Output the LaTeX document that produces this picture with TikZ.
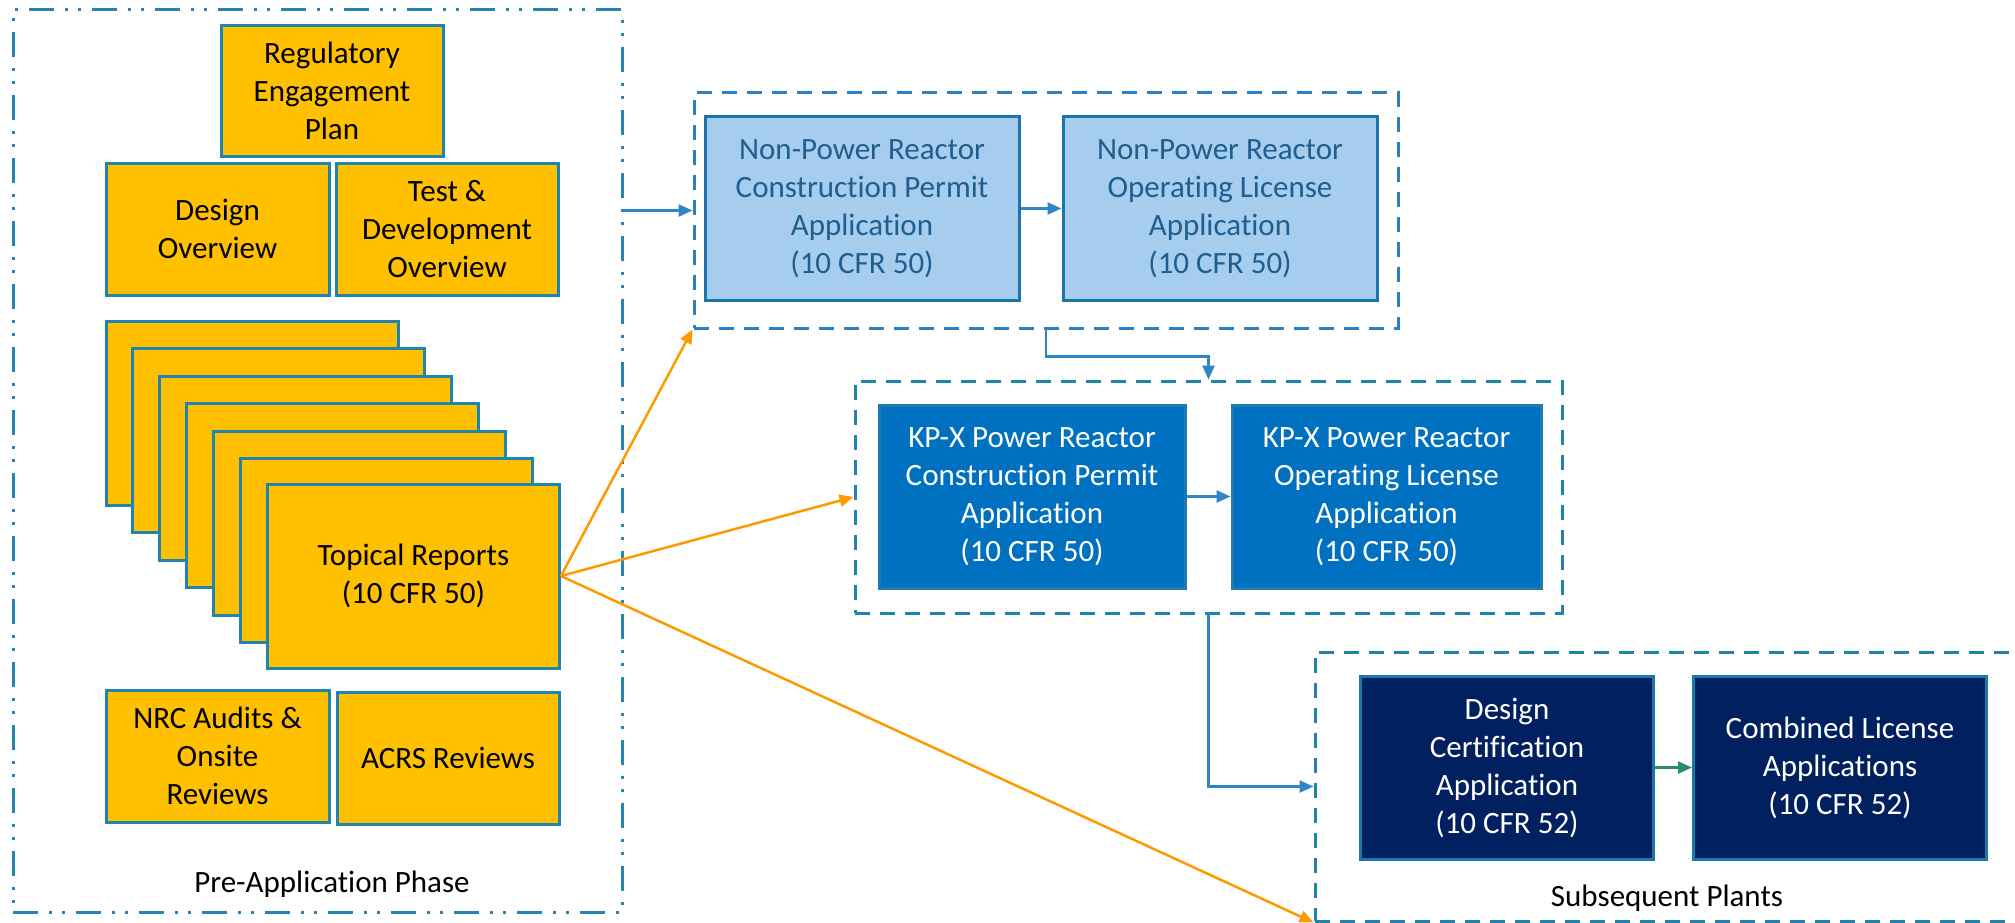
\documentclass[tikz,border=0pt]{standalone}
\usepackage{fontspec}
\setmainfont{Carlito}[Ligatures={NoCommon}]
\usetikzlibrary{arrows.meta}
\definecolor{yfill}{HTML}{FFC000}
\definecolor{yedge}{RGB}{31,132,174}
\definecolor{lbfill}{HTML}{A6CDED}
\definecolor{lbedge}{RGB}{27,117,168}
\definecolor{lbtext}{RGB}{30,94,145}
\definecolor{kpfill}{HTML}{0070C0}
\definecolor{kpedge}{RGB}{31,122,176}
\definecolor{nvfill}{HTML}{002060}
\definecolor{nvedge}{RGB}{26,122,165}
\definecolor{grpA}{RGB}{42,127,198}
\definecolor{grpB}{RGB}{30,132,172}
\definecolor{outerc}{RGB}{37,132,176}
\definecolor{arrblue}{RGB}{46,134,200}
\definecolor{arrorange}{HTML}{FF9900}
\definecolor{arrgreen}{RGB}{46,139,110}
\begin{document}
\begin{tikzpicture}[x=1pt,y=-1pt,
  txt/.style={font=\fontsize{31}{38}\selectfont, align=center},
  box/.style={txt, rectangle, line width=3pt, inner sep=0pt},
  ybox/.style={box, draw=yedge, fill=yfill, text=black},
  lbbox/.style={box, draw=lbedge, fill=lbfill, text=lbtext},
  kpbox/.style={box, draw=kpedge, fill=kpfill, text=white},
  nvbox/.style={box, draw=nvedge, fill=nvfill, text=white},
  grp/.style={rectangle, line width=3pt, inner sep=0pt, dash pattern=on 15pt off 10pt},
  outerbox/.style={rectangle, draw=outerc, line width=3pt, inner sep=0pt, dash pattern=on 25pt off 11pt on 3pt off 10pt on 3pt off 11pt},
  tip/.style={-{Triangle[length=14pt,width=12pt]}},
  barrow/.style={tip, draw=arrblue, line width=2.5pt},
  oarrow/.style={tip, draw=arrorange, line width=2.5pt},
  garrow/.style={tip, draw=arrgreen, line width=2.5pt},
  lbl/.style={txt, text=black, inner sep=0pt}
]
\useasboundingbox (0,0) rectangle (2015,923);

% Pre-application phase
\node[outerbox, minimum width=609pt, minimum height=902pt] (outer) at (317.5,461) {};
\node[lbl] (prelbl) at (332,884) {Pre-Application Phase};
\node[ybox, minimum width=222pt, minimum height=130pt] (reg) at (332,91) {Regulatory\\Engagement\\Plan};
\node[ybox, minimum width=223pt, minimum height=132pt] (des) at (217.5,229) {Design\\Overview};
\node[ybox, minimum width=222pt, minimum height=132pt] (test) at (447,229) {Test \&\\Development\\Overview};
\foreach \k in {0,...,5} {
  \node[ybox, minimum width=292pt, minimum height=184pt] (top\k) at ({252+26.9*\k},{413+27.5*\k}) {};
}
\node[ybox, minimum width=292pt, minimum height=184pt] (top6) at ({252+26.9*6},{411+27.5*6}) {Topical Reports\\(10 CFR 50)};
\node[ybox, minimum width=223pt, minimum height=132pt] (nrc) at (217.5,756) {NRC Audits \&\\Onsite\\Reviews};
\node[ybox, minimum width=222pt, minimum height=132pt] (acrs) at (448,758) {ACRS Reviews};

% Non-power reactor group
\node[grp, draw=grpA, minimum width=704pt, minimum height=235pt] (nprg) at (1046,210.5) {};
\node[lbbox, minimum width=314pt, minimum height=183pt] (nprcp) at (862,208.5) {Non-Power Reactor\\Construction Permit\\Application\\(10 CFR 50)};
\node[lbbox, minimum width=314pt, minimum height=183pt] (nprol) at (1220,208.5) {Non-Power Reactor\\Operating License\\Application\\(10 CFR 50)};

% KP-X group
\node[grp, draw=grpB, minimum width=707pt, minimum height=232pt] (kpg) at (1208.5,497) {};
\node[kpbox, minimum width=306pt, minimum height=183pt] (kpcp) at (1032,496.5) {KP-X Power Reactor\\Construction Permit\\Application\\(10 CFR 50)};
\node[kpbox, minimum width=309pt, minimum height=183pt] (kpol) at (1386.5,496.5) {KP-X Power Reactor\\Operating License\\Application\\(10 CFR 50)};

% Subsequent plants group
\node[grp, draw=grpB, minimum width=725pt, minimum height=269pt] (sub) at (1677.5,786.5) {};
\node[lbl] (sublbl) at (1667,898) {Subsequent Plants};
\node[nvbox, minimum width=293pt, minimum height=183pt] (dc) at (1507,767.5) {Design\\Certification\\Application\\(10 CFR 52)};
\node[nvbox, minimum width=293pt, minimum height=183pt] (cl) at (1840,767.5) {Combined License\\Applications\\(10 CFR 52)};

% connectors
\draw[barrow] (outer.east |- nprg.west) -- (nprg.west);
\draw[barrow] (nprcp.east) -- (nprol.west);
\draw[barrow] (nprg.south) -- ++(0,27) -| (kpg.north);
\draw[barrow] (kpcp.east) -- (kpol.west);
\draw[barrow] (kpg.south) |- (sub.west);
\draw[garrow] (dc.east) -- (cl.west);
\draw[oarrow] (top6.east) -- (nprg.south west);
\draw[oarrow] (top6.east) -- (kpg.west);
\draw[oarrow] (top6.east) -- (sub.south west);
\end{tikzpicture}
\end{document}
